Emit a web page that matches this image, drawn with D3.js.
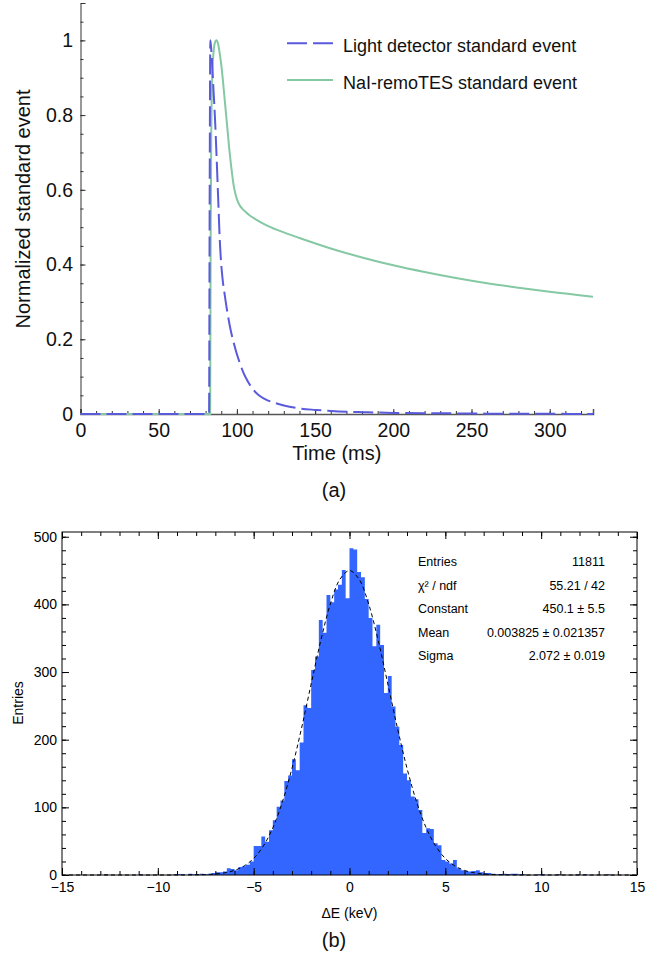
<!DOCTYPE html>
<html><head><meta charset="utf-8">
<script src="https://cdn.jsdelivr.net/npm/d3@7"></script>
<style>
html,body{margin:0;padding:0;background:#fff;}
svg{display:block;font-family:"Liberation Sans",Arial,Helvetica,sans-serif;}
</style></head><body>
<svg id="c" width="668" height="960"></svg>
<script>
// ---------- Panel (a) data ----------
const lightT = [0, 82.2, 82.6, 83.0, 83.5, 84, 85, 86, 87, 88, 89, 90, 91, 92, 94, 96, 98, 100, 102, 104, 107, 110, 114, 118, 124, 130, 140, 150, 165, 180, 200, 230, 260, 300, 327.68];
const lightV = [0, 0, 0.6, 1.0, 0.98, 0.95, 0.87, 0.79, 0.69, 0.58, 0.47, 0.40, 0.355, 0.325, 0.27, 0.225, 0.19, 0.16, 0.135, 0.112, 0.087, 0.068, 0.05, 0.04, 0.03, 0.023, 0.015, 0.011, 0.007, 0.005, 0.003, 0.002, 0.001, 0.0005, 0];
const naiT = [0, 82.9, 83.2, 83.6, 84.2, 85, 86, 86.8, 88, 89, 90, 91, 92, 93, 94, 95, 96, 97, 98, 99, 100, 102, 104, 106, 108, 112, 120, 130, 140, 160, 180, 200, 220, 240, 260, 280, 300, 327.68];
const naiV = [0, 0, 0.45, 0.75, 0.9, 0.965, 0.995, 1.0, 0.99, 0.965, 0.935, 0.895, 0.85, 0.805, 0.76, 0.715, 0.675, 0.64, 0.61, 0.59, 0.575, 0.557, 0.547, 0.539, 0.532, 0.521, 0.503, 0.486, 0.471, 0.443, 0.419, 0.398, 0.38, 0.364, 0.35, 0.338, 0.327, 0.314];
const seriesNames = ["Light detector standard event", "NaI-remoTES standard event"];
const xTicksA = [0, 50, 100, 150, 200, 250, 300];
const yTicksA = [0, 0.2, 0.4, 0.6, 0.8, 1];

// ---------- Panel (b) data ----------
const histStart = -15, histBinWidth = 0.2;
const histCounts = [
  0,0,0,0,0,0,0,0,0,0,
  0,1,0,0,0,0,0,0,0,0,
  1,0,0,0,0,0,0,0,0,1,
  1,1,0,2,1,1,2,1,2,3,
  4,4,5,10,9,7,12,13,15,20,
  43,43,57,49,66,81,101,110,139,147,
  171,155,196,251,247,303,323,377,358,414,
  403,422,429,451,409,483,481,448,440,408,
  380,338,370,340,269,294,249,219,192,150,
  140,116,112,96,62,69,68,47,44,22,
  20,17,22,10,7,6,5,6,7,4,
  3,3,2,1,1,2,1,2,2,1,
  1,0,0,0,1,1,0,0,0,1,
  0,0,0,0,1,0,1,0,0,0,
  0,0,1,0,0,0,0,0,0,0
];
const fitX = [-15,-14,-13,-12,-11,-10,-9,-8.5,-8,-7.5,-7,-6.5,-6,-5.5,-5,-4.5,-4,-3.5,-3,-2.5,-2,-1.5,-1,-0.5,0,0.5,1,1.5,2,2.5,3,3.5,4,4.5,5,5.5,6,6.5,7,7.5,8,8.5,9,10,11,12,13,14,15];
const fitY = [0,0,0,0,0,0,0,0.1,0.3,0.6,1.5,3.3,6.8,13.3,24.5,42.6,69.8,108.1,157.8,217.3,282.4,346.3,400.5,437.1,450,437.1,400.5,346.3,282.4,217.3,157.8,108.1,69.8,42.6,24.5,13.3,6.8,3.3,1.5,0.6,0.3,0.1,0,0,0,0,0,0,0];
const xTicksB = [-15, -10, -5, 0, 5, 10, 15];
const yTicksB = [0, 100, 200, 300, 400, 500];
const statLabels = ["Entries", "\u03C7\u00B2 / ndf", "Constant", "Mean", "Sigma"];
const statValues = ["11811", "55.21 / 42", "450.1 \u00B1 5.5", "0.003825 \u00B1 0.021357", "2.072 \u00B1 0.019"];

const svg = d3.select("#c");
const blue = "#5a5adc", green = "#84c9a3";

// ================= Panel (a) =================
const xA = d3.scaleLinear().domain([0, 327.68]).range([80.5, 593]);
const yA = d3.scaleLinear().domain([0, 1.1]).range([414, 3]);
const gA = svg.append("g");

// minor ticks
gA.append("g").attr("transform", "translate(0,414)")
  .call(d3.axisBottom(xA).tickValues(d3.range(0, 330, 10)).tickSize(-3).tickFormat(""))
  .call(g => g.select(".domain").remove())
  .call(g => g.selectAll("line").attr("stroke", "#333"));
gA.append("g").attr("transform", "translate(80.5,0)")
  .call(d3.axisLeft(yA).tickValues(d3.range(0, 1.1001, 0.05)).tickSize(-3).tickFormat(""))
  .call(g => g.select(".domain").remove())
  .call(g => g.selectAll("line").attr("stroke", "#333"));
// major
gA.append("g").attr("transform", "translate(0,414)")
  .call(d3.axisBottom(xA).tickValues(xTicksA).tickSize(-5).tickPadding(9).tickFormat(d3.format("d")))
  .call(g => g.select(".domain").attr("stroke", "#555").attr("stroke-width", 1.5))
  .call(g => g.selectAll("line").attr("stroke", "#333"))
  .call(g => g.selectAll("text").attr("font-size", 19.5).attr("fill", "#111").attr("font-family", "Liberation Sans, Arial, sans-serif"));
gA.append("g").attr("transform", "translate(80.5,0)")
  .call(d3.axisLeft(yA).tickValues(yTicksA).tickSize(-5).tickPadding(7.5).tickFormat(d3.format("~g")))
  .call(g => g.select(".domain").attr("stroke", "#333").attr("stroke-width", 1))
  .call(g => g.selectAll("line").attr("stroke", "#333"))
  .call(g => g.selectAll("text").attr("font-size", 19.5).attr("fill", "#111").attr("font-family", "Liberation Sans, Arial, sans-serif"));

const lineA = d3.line().x(d => xA(d[0])).y(d => yA(d[1])).curve(d3.curveMonotoneX);
gA.append("path").datum(naiT.map((t, i) => [t, naiV[i]]))
  .attr("d", lineA).attr("fill", "none").attr("stroke", green).attr("stroke-width", 2);
gA.append("path").datum(lightT.map((t, i) => [t, lightV[i]]))
  .attr("d", lineA).attr("fill", "none").attr("stroke", blue).attr("stroke-width", 2)
  .attr("stroke-dasharray", "20,6");

// legend
const legA = gA.append("g");
[[blue, "20,6", 43.3, 52], [green, null, 80, 88.5]].forEach((s, i) => {
  legA.append("line").attr("x1", 287).attr("x2", 333).attr("y1", s[2]).attr("y2", s[2])
    .attr("stroke", s[0]).attr("stroke-width", 2).attr("stroke-dasharray", s[1]);
  legA.append("text").attr("x", 343).attr("y", s[3]).attr("font-size", 18).attr("fill", "#111")
    .text(seriesNames[i]);
});
gA.append("text").attr("x", 336.75).attr("y", 460).attr("text-anchor", "middle")
  .attr("font-size", 20).attr("fill", "#111").text("Time (ms)");
gA.append("text").attr("transform", "translate(30,209) rotate(-90)").attr("text-anchor", "middle")
  .attr("font-size", 20).attr("fill", "#111").text("Normalized standard event");
svg.append("text").attr("x", 334).attr("y", 497).attr("text-anchor", "middle")
  .attr("font-size", 20).attr("fill", "#111").text("(a)");

// ================= Panel (b) =================
const xB = d3.scaleLinear().domain([-15, 15]).range([62, 637]);
const yB = d3.scaleLinear().domain([0, 507]).range([875, 532]);
const gB = svg.append("g");

const histData = histCounts.map((c, i) => [histStart + i * histBinWidth, c]);
histData.push([histStart + histCounts.length * histBinWidth, histCounts[histCounts.length - 1]]);
gB.append("path").datum(histData)
  .attr("d", d3.area().x(d => xB(d[0])).y0(yB(0)).y1(d => yB(d[1])).curve(d3.curveStepAfter))
  .attr("fill", "#3366ff").attr("stroke", "none");

gB.append("path").datum(fitX.map((x, i) => [x, fitY[i]]))
  .attr("d", d3.line().x(d => xB(d[0])).y(d => yB(d[1])).curve(d3.curveCatmullRom))
  .attr("fill", "none").attr("stroke", "#000").attr("stroke-width", 1).attr("stroke-dasharray", "4,3");

// frame
gB.append("rect").attr("x", 62).attr("y", 532).attr("width", 575).attr("height", 343)
  .attr("fill", "none").attr("stroke", "#000").attr("stroke-width", 1);

function ticksB(axisFn, scale, pos, vals, size) {
  gB.append("g").attr("transform", pos)
    .call(axisFn(scale).tickValues(vals).tickSize(size).tickFormat(""))
    .call(g => g.select(".domain").remove())
    .call(g => g.selectAll("line").attr("stroke", "#000"));
}
const minorX = d3.range(-15, 15.001, 1), minorY = d3.range(0, 507, 20);
ticksB(d3.axisBottom, xB, "translate(0,875)", minorX, -4);
ticksB(d3.axisBottom, xB, "translate(0,875)", xTicksB, -7);
ticksB(d3.axisTop, xB, "translate(0,532)", minorX, -4);
ticksB(d3.axisTop, xB, "translate(0,532)", xTicksB, -7);
ticksB(d3.axisLeft, yB, "translate(62,0)", minorY, -4);
ticksB(d3.axisLeft, yB, "translate(62,0)", yTicksB, -7);
ticksB(d3.axisRight, yB, "translate(637,0)", minorY, -4);
ticksB(d3.axisRight, yB, "translate(637,0)", yTicksB, -7);

gB.append("g").attr("transform", "translate(0,875)")
  .call(d3.axisBottom(xB).tickValues(xTicksB).tickSize(0).tickPadding(7))
  .call(g => g.select(".domain").remove())
  .call(g => g.selectAll("text").attr("font-size", 14).attr("fill", "#000").attr("font-family", "Liberation Sans, Arial, sans-serif"));
gB.append("g").attr("transform", "translate(62,0)")
  .call(d3.axisLeft(yB).tickValues(yTicksB).tickSize(0).tickPadding(5))
  .call(g => g.select(".domain").remove())
  .call(g => g.selectAll("text").attr("font-size", 14).attr("fill", "#000").attr("font-family", "Liberation Sans, Arial, sans-serif"));

gB.append("text").attr("x", 349.5).attr("y", 918).attr("text-anchor", "middle")
  .attr("font-size", 14).attr("fill", "#000").text("\u0394E (keV)");
gB.append("text").attr("transform", "translate(23,703) rotate(-90)").attr("text-anchor", "middle")
  .attr("font-size", 14).attr("fill", "#000").text("Entries");

statLabels.forEach((l, i) => {
  const y = 566 + i * 23.6;
  gB.append("text").attr("x", 418).attr("y", y).attr("font-size", 12.5).attr("fill", "#000").text(l);
  gB.append("text").attr("x", 605).attr("y", y).attr("text-anchor", "end").attr("font-size", 12.5).attr("fill", "#000").text(statValues[i]);
});

svg.append("text").attr("x", 334).attr("y", 947).attr("text-anchor", "middle")
  .attr("font-size", 20).attr("fill", "#111").text("(b)");
</script>
</body></html>
